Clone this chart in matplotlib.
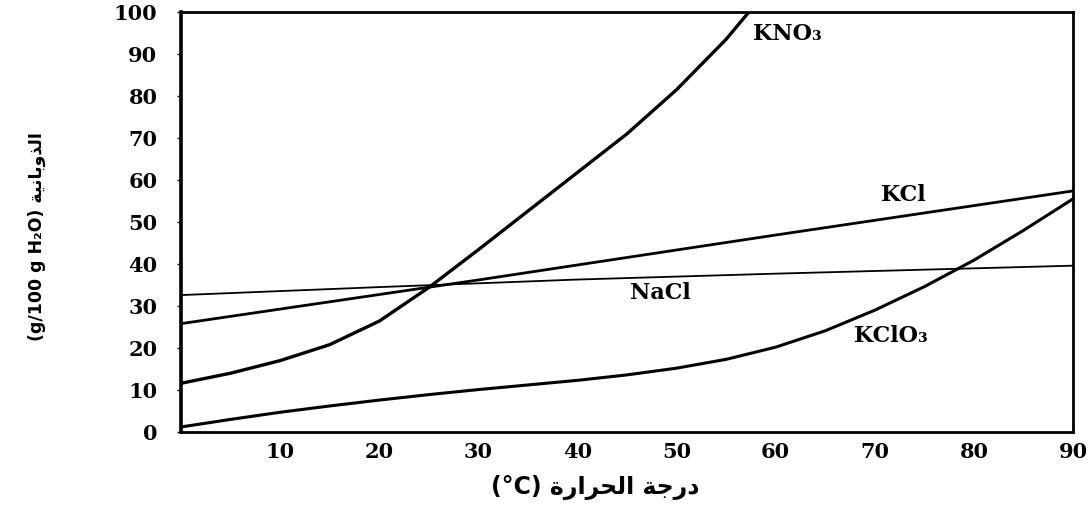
import matplotlib
matplotlib.use('Agg')
import matplotlib.pyplot as plt

# ── Data ──────────────────────────────────────────────────────────────────────
kno3_t = [0, 5, 10, 15, 20, 25, 30, 35, 40, 45, 50, 55, 57.3]
kno3_s = [11.6, 14.0, 17.0, 20.8, 26.4, 34.4, 43.4, 52.6, 61.8, 71.0, 81.5, 93.5, 100]

kcl_t = [0, 30, 60, 90]
kcl_s = [25.8, 36.2, 46.9, 57.4]

nacl_t = [0, 20, 40, 60, 90]
nacl_s = [32.6, 34.5, 36.3, 37.7, 39.6]

kclo3_t = [0, 5, 10, 15, 20, 25, 30, 35, 40, 45, 50, 55, 60, 65, 70, 75, 80, 85, 90]
kclo3_s = [1.2, 3.0, 4.7, 6.2, 7.6, 8.9, 10.1, 11.2, 12.3, 13.6, 15.2, 17.3, 20.2,
           24.1, 29.0, 34.6, 40.9, 48.0, 55.5]

x_ticks = [10, 20, 30, 40, 50, 60, 70, 80, 90]
y_ticks = [0, 10, 20, 30, 40, 50, 60, 70, 80, 90, 100]

# Arabic written in presentation forms, visual (left-to-right) order,
# because matplotlib does no shaping / bidi on its own
AR_TEMP = '\ufe93\ufead\ufe8d\ufeae\ufea4\ufedf\ufe8d \ufe94\ufe9f\ufead\ufea9'   # درجة الحرارة
AR_SOLUB = '\ufe94\ufef4\ufee7\ufe8e\ufe91\ufeed\ufeac\ufedf\ufe8d'              # الذوبانية

SERIF = ['DejaVu Serif', 'DejaVu Sans']

fig = plt.figure(figsize=(10.92, 5.08), dpi=100)
ax = fig.add_axes([0.1658, 0.1496, 0.8168, 0.8268])

ax.plot(kno3_t, kno3_s, color='black', linewidth=2.4, solid_joinstyle='round')
ax.plot(kcl_t, kcl_s, color='black', linewidth=2.0)
ax.plot(nacl_t, nacl_s, color='black', linewidth=1.3)
ax.plot(kclo3_t, kclo3_s, color='black', linewidth=2.2, solid_joinstyle='round')

ax.set_xlim(0, 90)
ax.set_ylim(0, 100)

ax.set_xticks(x_ticks)
ax.set_yticks(y_ticks)
ax.tick_params(axis='x', length=0, pad=7)
ax.tick_params(axis='y', direction='out', length=3, width=1, pad=14)
for lab in ax.get_xticklabels() + ax.get_yticklabels():
    lab.set_fontfamily(SERIF)
    lab.set_fontweight('bold')
    lab.set_fontsize(15)

for side in ['right', 'top', 'bottom']:
    ax.spines[side].set_linewidth(2.0)
ax.spines['left'].set_linewidth(2.6)

# curve labels
lab_kw = dict(fontfamily=SERIF, fontweight='bold', fontsize=16, color='black')
ax.text(57.7, 94.7, 'KNO\u2083', ha='left', va='center', **lab_kw)
ax.text(72.9, 56.4, 'KCl', ha='center', va='center', **lab_kw)
ax.text(48.4, 33.1, 'NaCl', ha='center', va='center', **lab_kw)
ax.text(67.9, 22.8, 'KClO\u2083', ha='left', va='center', **lab_kw)

# axis titles
fig.text(595 / 1092, 1 - 487 / 508, '(°C) ' + AR_TEMP, ha='center', va='center',
         fontfamily='DejaVu Sans', fontweight='bold', fontsize=17)
fig.text(37 / 1092, 1 - 237 / 508, '(g/100 g H\u2082O) ' + AR_SOLUB, ha='center', va='center',
         rotation=90, fontfamily='DejaVu Sans', fontweight='bold', fontsize=12.5)

plt.savefig('out.png', dpi=100)
plt.close()
